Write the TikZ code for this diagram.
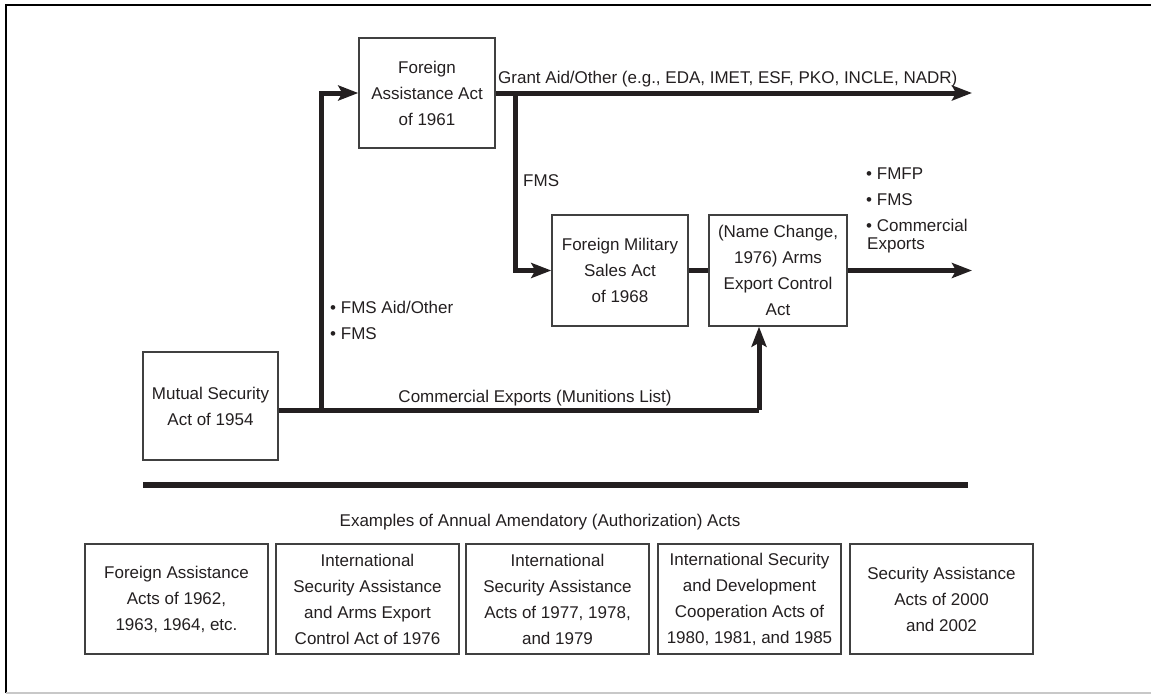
\documentclass[tikz,border=0pt]{standalone}
\usepackage{fontspec}
\setmainfont{Liberation Sans}
\usetikzlibrary{arrows.meta}
\definecolor{ink}{HTML}{231F20}
\definecolor{boxline}{HTML}{404040}
\definecolor{framegray}{HTML}{C8C8C8}
\tikzset{
  actbox/.style={draw=boxline, line width=1.5pt, inner sep=0pt, align=center, text=ink,
     font=\fontsize{17}{26}\selectfont},
  flow/.style={line width=5pt, draw=ink},
  tip/.style={-{Stealth[length=20pt,width=15pt,inset=4pt]}},
  lbl/.style={text=ink, font=\fontsize{17}{20}\selectfont, inner sep=0pt}
}
\begin{document}
\begin{tikzpicture}[x=1pt,y=-1pt]
\useasboundingbox (0,0) rectangle (1151,694);
% outer frame
\draw[black, line width=2pt] (6,693) -- (6,5) -- (1151,5);
\draw[framegray, line width=1.5pt] (6,693) -- (1151,693);

% main boxes
\node[actbox, minimum width=136pt, minimum height=110pt] (FAA) at (427,93) {Foreign\\Assistance Act\\of 1961};
\node[actbox, minimum width=136pt, minimum height=111pt] (FMSA) at (620,270.5) {Foreign Military\\Sales Act\\of 1968};
\node[actbox, minimum width=138pt, minimum height=111pt] (AECA) at (778,270.5) {(Name Change,\\1976) Arms\\Export Control\\Act};
\node[actbox, minimum width=135pt, minimum height=108pt] (MS) at (210.5,406) {Mutual Security\\Act of 1954};

% junctions and free ends
\coordinate (j1) at (321,410);
\coordinate (j2) at (759,410);
\coordinate (f1) at (515,93);
\coordinate (g) at (972,93);
\coordinate (o) at (972,270.5);

% connectors
\draw[flow] (MS.east |- j1) -- (j2);
\draw[flow, tip] (j2) -- (j2 |- AECA.south);
\draw[flow, tip] (j1) |- (FAA.west);
\draw[flow, tip] (FAA.east) -- (g);
\draw[flow, tip] (f1) |- (FMSA.west);
\draw[flow] (FMSA.east) -- (AECA.west);
\draw[flow, tip] (AECA.east) -- (o);

% labels
\node[lbl, anchor=base west] (lgrant) at (498,83) {Grant Aid/Other (e.g., EDA, IMET, ESF, PKO, INCLE, NADR)};
\node[lbl, anchor=base west] (lfms) at (523,186) {FMS};
\node[lbl, anchor=base west] (laid) at (330,313) {\textbullet\ FMS Aid/Other};
\node[lbl, anchor=base west] (lfms2) at (330,339) {\textbullet\ FMS};
\node[lbl, anchor=base] (lcom) at (535,402) {Commercial Exports (Munitions List)};
\node[lbl, anchor=base west] (lfmfp) at (866,179) {\textbullet\ FMFP};
\node[lbl, anchor=base west] (lfms3) at (866,205) {\textbullet\ FMS};
\node[lbl, anchor=base west] (lce1) at (866,231) {\textbullet\ Commercial};
\node[lbl, anchor=base west] (lce2) at (867,249) {Exports};

% separator
\draw[ink, line width=6pt] (143,485) -- (968,485);
\node[lbl, anchor=base] (lex) at (540,526) {Examples of Annual Amendatory (Authorization) Acts};

% bottom boxes
\tikzset{lowbox/.style={actbox, minimum width=183pt, minimum height=110pt}}
\node[lowbox] (b1) at (176.5,599) {Foreign Assistance\\Acts of 1962,\\1963, 1964, etc.};
\node[lowbox] (b2) at (367.5,599) {International\\Security Assistance\\and Arms Export\\Control Act of 1976};
\node[lowbox] (b3) at (557.5,599) {International\\Security Assistance\\Acts of 1977, 1978,\\and 1979};
\node[lowbox] (b4) at (749.5,599) {International Security\\and Development\\Cooperation Acts of\\1980, 1981, and 1985};
\node[lowbox] (b5) at (941.5,599) {Security Assistance\\Acts of 2000\\and 2002};
\end{tikzpicture}
\end{document}
